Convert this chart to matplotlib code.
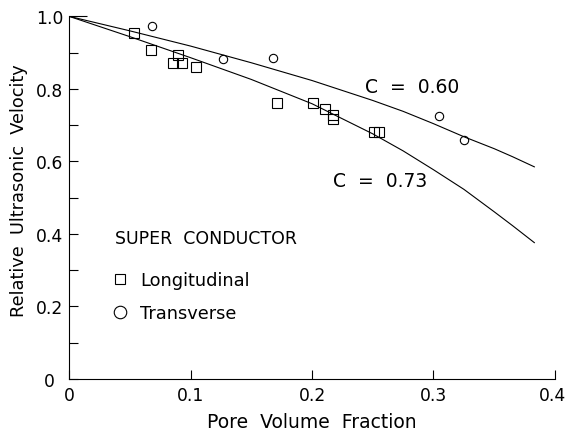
import matplotlib
matplotlib.use("Agg")
import matplotlib.pyplot as plt
from matplotlib.lines import Line2D
from matplotlib.ticker import MultipleLocator
from matplotlib.transforms import ScaledTranslation

plt.rcParams['font.family'] = ['DejaVu Sans']

# Measured relative velocities (longitudinal = squares, transverse = circles)
long_p = [0.0537, 0.0671, 0.0893, 0.0857, 0.0934, 0.1049, 0.1715,
          0.2008, 0.2109, 0.2175, 0.2175, 0.2514, 0.2555]
long_v = [0.955, 0.907, 0.893, 0.870, 0.870, 0.861, 0.762,
          0.762, 0.745, 0.728, 0.716, 0.682, 0.682]
trans_p = [0.0685, 0.1268, 0.1679, 0.3048, 0.3250]
trans_v = [0.973, 0.883, 0.886, 0.725, 0.660]

# Model curves for the two values of C
fit_p = [0.0, 0.05, 0.10, 0.15, 0.20, 0.25, 0.275, 0.30, 0.325, 0.35, 0.365, 0.383]
c60_v = [1.0, 0.960, 0.918, 0.872, 0.823, 0.768, 0.738, 0.704, 0.668, 0.635, 0.613, 0.585]
c73_v = [1.0, 0.944, 0.886, 0.826, 0.759, 0.676, 0.629, 0.577, 0.523, 0.461, 0.423, 0.376]
c_labels = ["C  =  0.60", "C  =  0.73"]

x_ticks = [0, 0.1, 0.2, 0.3, 0.4]
x_ticklabels = ["0", "0.1", "0.2", "0.3", "0.4"]
y_ticks = [0, 0.2, 0.4, 0.6, 0.8, 1.0]
y_ticklabels = ["0", "0.2", "0.4", "0.6", "0.8", "1.0"]

fig = plt.figure(figsize=(5.68, 4.35), dpi=100)
ax = fig.add_axes([0.1215, 0.1264, 0.8556, 0.8338])

lw = 0.8
ax.plot(fit_p, c60_v, color='black', lw=lw)
ax.plot(fit_p, c73_v, color='black', lw=lw)
ax.plot(long_p, long_v, ls='none', marker='s', ms=7.5, mfc='none', mec='black', mew=0.8)
ax.plot(trans_p, trans_v, ls='none', marker='o', ms=6, mfc='none', mec='black', mew=0.8)

ax.text(0.244, 0.807, c_labels[0], fontsize=13.5, va='center', ha='left')
ax.text(0.217, 0.548, c_labels[1], fontsize=13.5, va='center', ha='left')

# Key: heading plus one row per wave type
ax.text(0.0378, 0.388, "SUPER  CONDUCTOR", fontsize=12.5, va='center', ha='left')
handles = [Line2D([], [], ls='none', marker='s', ms=7, mfc='none', mec='black', mew=0.8),
           Line2D([], [], ls='none', marker='o', ms=9, mfc='none', mec='black', mew=0.8)]
ax.legend(handles, ["Longitudinal", "Transverse"],
          loc='center left', bbox_to_anchor=(0.0912, 0.227), frameon=False,
          fontsize=12.8, handlelength=0.8, handletextpad=0.7,
          labelspacing=0.85, borderpad=0, borderaxespad=0)

ax.set_xlim(0, 0.4)
ax.set_ylim(0, 1.0)
ax.set_xticks(x_ticks)
ax.set_xticklabels(x_ticklabels)
ax.set_yticks(y_ticks)
ax.set_yticklabels(y_ticklabels)
ax.yaxis.set_minor_locator(MultipleLocator(0.1))
ax.tick_params(axis='both', which='both', direction='in', length=6.5, width=0.8,
               labelsize=12.3, top=False, right=False)
ax.tick_params(axis='y', pad=4)
ax.tick_params(axis='x', pad=5)

# longer tick at the top of the velocity axis
ax.yaxis.get_major_ticks()[-1].tick1line.set_markersize(13)

# nudge the end labels: last x label kept inside the figure, y origin label set left
last_x = ax.get_xticklabels()[-1]
last_x.set_transform(last_x.get_transform() + ScaledTranslation(-2 / 72, 0, fig.dpi_scale_trans))
first_y = ax.get_yticklabels()[0]
first_y.set_transform(first_y.get_transform() + ScaledTranslation(-6 / 72, 0, fig.dpi_scale_trans))

for side in ('top', 'right'):
    ax.spines[side].set_visible(False)
for side in ('left', 'bottom'):
    ax.spines[side].set_linewidth(0.8)

ax.set_xlabel("Pore  Volume  Fraction", fontsize=13.5, labelpad=6)
ax.set_ylabel("Relative  Ultrasonic  Velocity", fontsize=12.8)
ax.yaxis.set_label_coords(-0.085, 0.522)

fig.savefig("out.png", dpi=100)
